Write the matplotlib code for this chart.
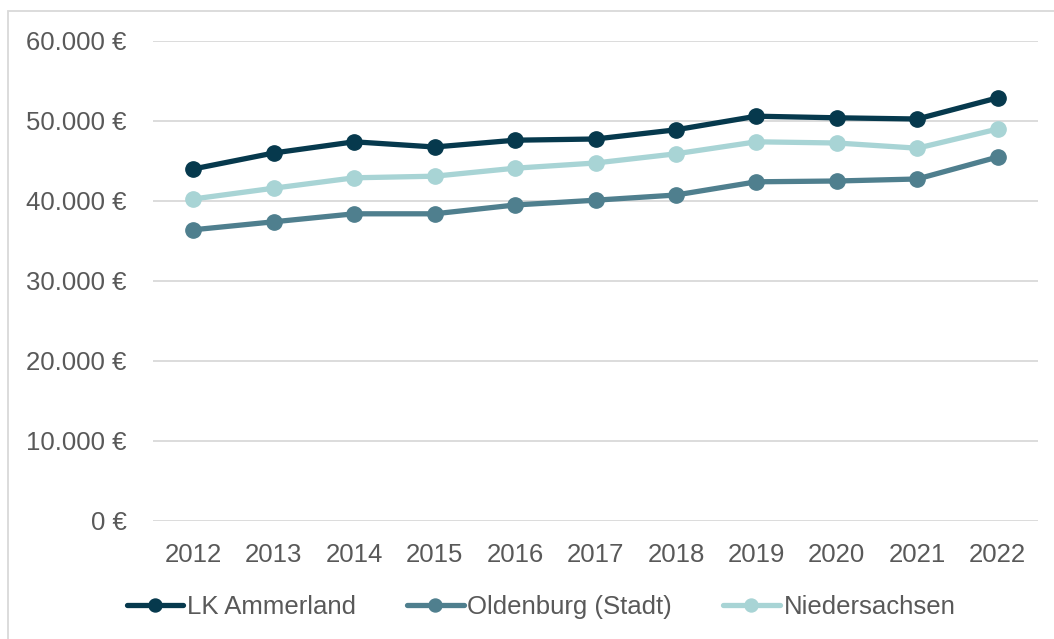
import matplotlib.pyplot as plt
from matplotlib.patches import Rectangle
from matplotlib.ticker import FuncFormatter

plt.rcParams['font.family'] = ['Liberation Sans', 'DejaVu Sans']

years = [2012, 2013, 2014, 2015, 2016, 2017, 2018, 2019, 2020, 2021, 2022]
ammerland = [44000, 46000, 47400, 46750, 47600, 47750, 48900, 50600, 50400, 50250, 52900]
oldenburg = [36400, 37400, 38400, 38400, 39500, 40100, 40750, 42400, 42500, 42750, 45500]
niedersachsen = [40250, 41600, 42900, 43100, 44100, 44750, 45900, 47400, 47250, 46600, 49000]

series = [
    ('LK Ammerland', ammerland, '#06394d'),
    ('Oldenburg (Stadt)', oldenburg, '#4f7f8e'),
    ('Niedersachsen', niedersachsen, '#a8d4d5'),
]

fs = 18.5
fig = plt.figure(figsize=(10.54, 6.39), dpi=100)
ax = fig.add_axes([153 / 1054, 1 - 521 / 639, 885 / 1054, 480 / 639])

x = list(range(len(years)))
for name, vals, col in series:
    ax.plot(x, vals, color=col, lw=3.8, marker='o', ms=11, label=name,
            solid_capstyle='round')

ax.set_xlim(-0.5, len(years) - 0.5)
ax.set_ylim(0, 60000)
ax.set_yticks(range(0, 60001, 10000))
ax.yaxis.set_major_formatter(FuncFormatter(
    lambda v, p: '{:,.0f} €'.format(v).replace(',', '.')))
ax.set_xticks(x)
ax.set_xticklabels([str(y) for y in years])
ax.grid(axis='y', color='#d9d9d9', lw=1.3)
ax.set_axisbelow(True)
for s in ax.spines.values():
    s.set_visible(False)
ax.tick_params(length=0, labelsize=fs, labelcolor='#595959')
ax.tick_params(axis='y', pad=19)
ax.tick_params(axis='x', pad=16)

leg = fig.legend(loc='center', bbox_to_anchor=(541 / 1054, 1 - 607 / 639),
                 ncol=3, frameon=False, fontsize=fs, handlelength=2.2,
                 handletextpad=0.15, columnspacing=1.98, markerscale=0.85)
for t in leg.get_texts():
    t.set_color('#595959')

fig.patches.append(Rectangle((8 / 1054, -0.01), 1.02, 1 - 11 / 639 + 0.01,
                             transform=fig.transFigure, fill=False,
                             edgecolor='#d9d9d9', lw=1.3))

fig.savefig('out.png', dpi=100)
